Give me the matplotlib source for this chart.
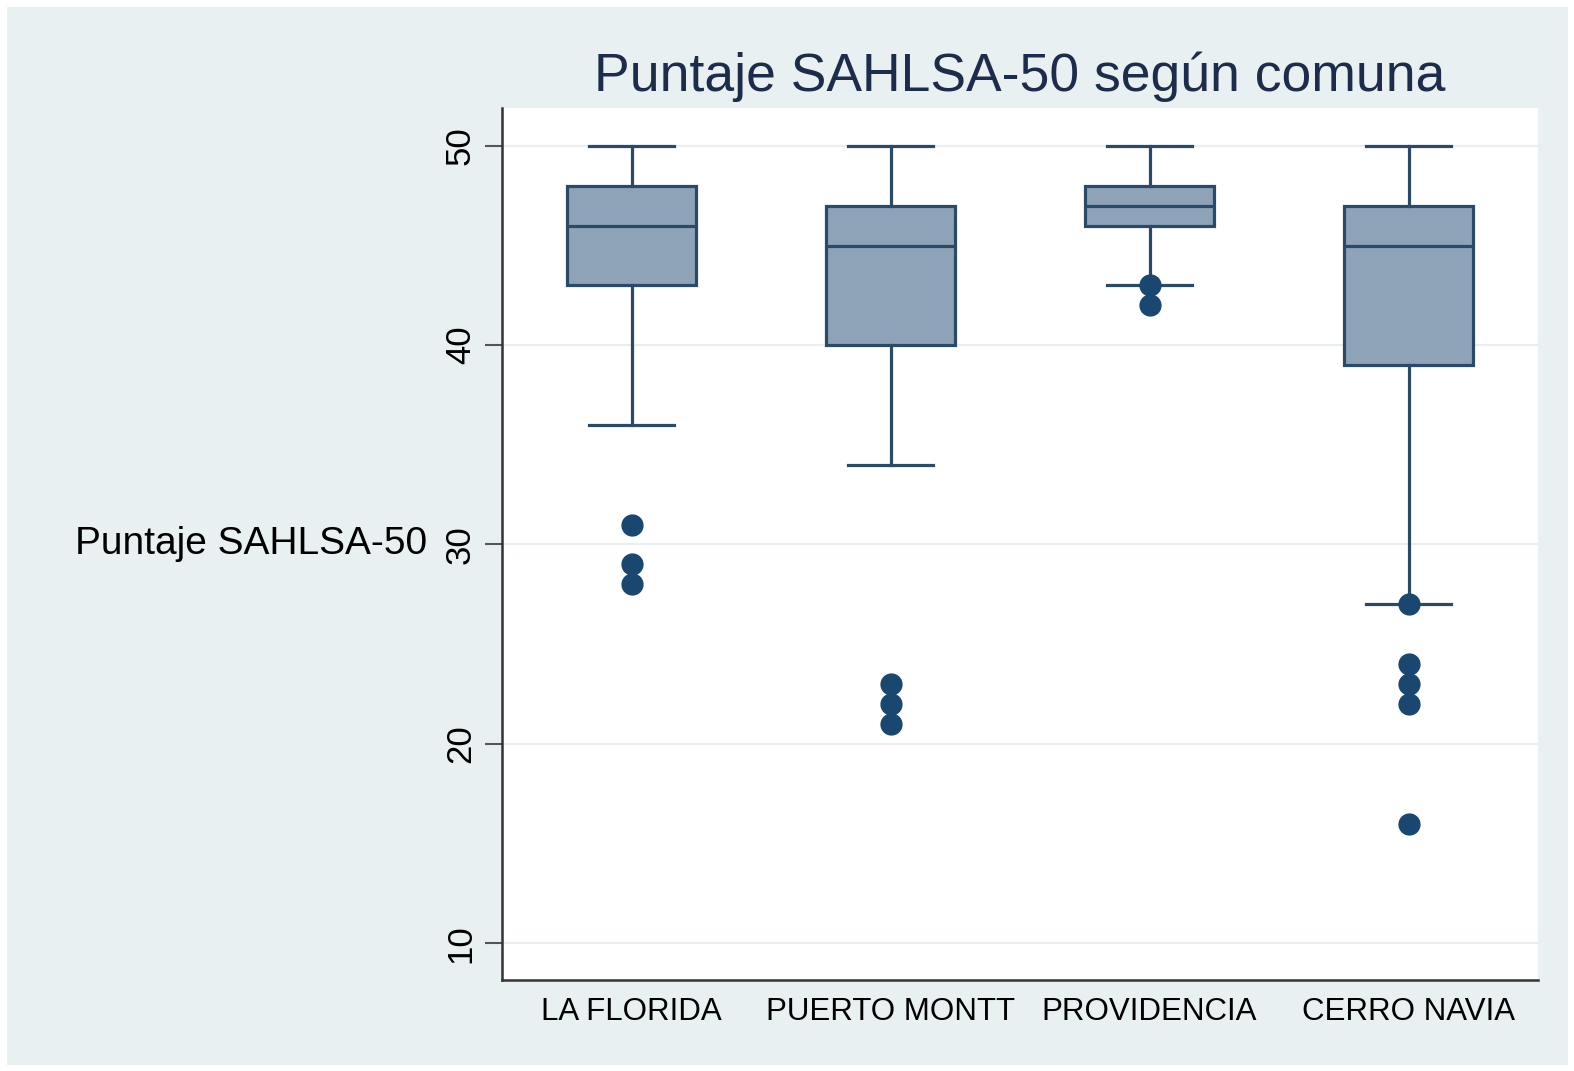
import matplotlib
matplotlib.use("Agg")
import matplotlib.pyplot as plt
from matplotlib.patches import Rectangle

plt.rcParams['font.family'] = ['Liberation Sans', 'DejaVu Sans']

# data
comunas = ["LA FLORIDA", "PUERTO MONTT", "PROVIDENCIA", "CERRO NAVIA"]
whislo = [36, 34, 43, 27]
q1 = [43, 40, 46, 39]
med = [46, 45, 47, 45]
q3 = [48, 47, 48, 47]
whishi = [50, 50, 50, 50]
outliers = [[31, 29, 28], [23, 22, 21], [43, 42], [27, 24, 23, 22, 16]]
yticks = [10, 20, 30, 40, 50]

navy = "#1a476f"
edge = "#2b4a68"
fill = "#8ea3b8"
bg = "#e9f0f2"

fig = plt.figure(figsize=(15.74, 10.71), dpi=100, facecolor="white")
fig.patches.append(Rectangle((7/1574, 6/1071), 1561/1574, 1058/1071,
                             transform=fig.transFigure, facecolor=bg,
                             edgecolor="none", zorder=-10))
ax = fig.add_axes([502/1574, 1 - 980/1071, 1036/1574, 872/1071])

stats = []
for i in range(len(comunas)):
    stats.append(dict(label=comunas[i], whislo=whislo[i], q1=q1[i], med=med[i],
                      q3=q3[i], whishi=whishi[i], fliers=outliers[i]))

ax.bxp(stats, positions=[1, 2, 3, 4], widths=0.5, patch_artist=True,
       boxprops=dict(facecolor=fill, edgecolor=edge, linewidth=2.3),
       medianprops=dict(color=edge, linewidth=2.3),
       whiskerprops=dict(color=edge, linewidth=2.3),
       capprops=dict(color=edge, linewidth=2.3),
       capwidths=0.33,
       flierprops=dict(marker="o", markersize=15, markerfacecolor=navy,
                       markeredgecolor=navy))

ax.set_xlim(0.5, 4.5)
ax.set_ylim(8.15, 51.9)
ax.set_yticks(yticks)
ax.set_yticklabels([str(t) for t in yticks], rotation=90, va="center", fontsize=25)
ax.set_xticks([1, 2, 3, 4])
ax.set_xticklabels(comunas, fontsize=22.5)
ax.tick_params(axis="x", length=0, pad=12)
ax.tick_params(axis="y", length=12, width=1.5, color="#555555", pad=6)
ax.yaxis.grid(True, color="#e8eff1", linewidth=1.5)
ax.set_axisbelow(True)

for s in ["top", "right"]:
    ax.spines[s].set_visible(False)
ax.spines["left"].set_linewidth(1.8)
ax.spines["bottom"].set_linewidth(1.8)
ax.spines["left"].set_color("#333333")
ax.spines["bottom"].set_color("#333333")

ax.set_ylabel("Puntaje SAHLSA-50", rotation=0, ha="right", va="center",
              fontsize=28, labelpad=12)
ax.set_title("Puntaje SAHLSA-50 según comuna", fontsize=38.5, color="#1e2c4c",
             pad=12)

fig.savefig("out.png", dpi=100, facecolor=fig.get_facecolor())
